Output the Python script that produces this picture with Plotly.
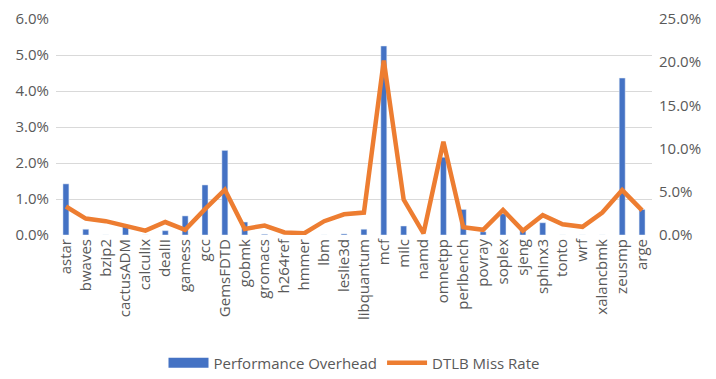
import plotly.graph_objects as go

categories = ["astar", "bwaves", "bzip2", "cactusADM", "calculix", "dealII", "gamess", "gcc",
              "GemsFDTD", "gobmk", "gromacs", "h264ref", "hmmer", "lbm", "leslie3d", "libquantum",
              "mcf", "milc", "namd", "omnetpp", "perlbench", "povray", "soplex", "sjeng",
              "sphinx3", "tonto", "wrf", "xalancbmk", "zeusmp", "arge"]

perf_overhead = [1.42, 0.16, 0.0, 0.23, 0.0, 0.12, 0.53, 1.39,
                 2.35, 0.36, 0.02, 0.0, 0.0, 0.0, 0.03, 0.16,
                 5.25, 0.25, 0.0, 2.16, 0.71, 0.09, 0.59, 0.14,
                 0.34, 0.0, 0.0, 0.0, 4.36, 0.71]

dtlb_miss = [3.3, 1.9, 1.6, 1.0, 0.5, 1.5, 0.6, 3.0,
             5.25, 0.7, 1.1, 0.3, 0.2, 1.6, 2.4, 2.6,
             20.2, 4.1, 0.2, 10.8, 0.9, 0.6, 2.9, 0.5,
             2.3, 1.25, 0.95, 2.6, 5.2, 2.85]

font_family = "Open Sans, Noto Sans, sans-serif"
grey = "#595959"
blue = "#4472C4"
orange = "#ED7D31"

fig = go.Figure()
fig.add_trace(go.Bar(x=categories, y=[v / 100 for v in perf_overhead],
                     name="Performance Overhead", marker_color=blue,
                     width=0.3, yaxis="y", showlegend=False))
# legend-only entry to get a wide rectangular swatch like the reference
fig.add_trace(go.Scatter(x=[categories[0]], y=[None], mode="lines",
                         name="Performance Overhead",
                         line=dict(color=blue, width=10), yaxis="y",
                         hoverinfo="skip"))
fig.add_trace(go.Scatter(x=categories, y=[v / 100 for v in dtlb_miss],
                         name="DTLB Miss Rate", mode="lines",
                         line=dict(color=orange, width=4.5), yaxis="y2"))

fig.update_layout(
    width=708, height=371,
    margin=dict(l=48, r=64, t=11, b=144, autoexpand=False),
    plot_bgcolor="white", paper_bgcolor="white",
    font=dict(family=font_family, size=15, color=grey),
    showlegend=True,
    legend=dict(orientation="h", x=0.5, xanchor="center", y=-0.593, yanchor="middle",
                font=dict(size=15, color=grey), traceorder="normal",
                itemwidth=40),
    xaxis=dict(tickangle=-90, showgrid=False, showline=False, ticks="",
               automargin=False, tickfont=dict(size=15, color=grey)),
    yaxis=dict(range=[0, 0.06], dtick=0.01, tickformat=".1%", showgrid=True,
               gridcolor="#D9D9D9", gridwidth=1, zeroline=False, showline=False,
               ticks="", automargin=False, ticklabelstandoff=6,
               ticklabeloverflow="allow",
               tickfont=dict(size=15, color=grey)),
    yaxis2=dict(range=[0, 0.25], dtick=0.05, tickformat=".1%", overlaying="y",
                side="right", showgrid=False, zeroline=False, showline=False,
                ticks="", automargin=False, ticklabelstandoff=6,
                ticklabeloverflow="allow",
                tickfont=dict(size=15, color=grey)),
)

fig.write_html("out.html")
